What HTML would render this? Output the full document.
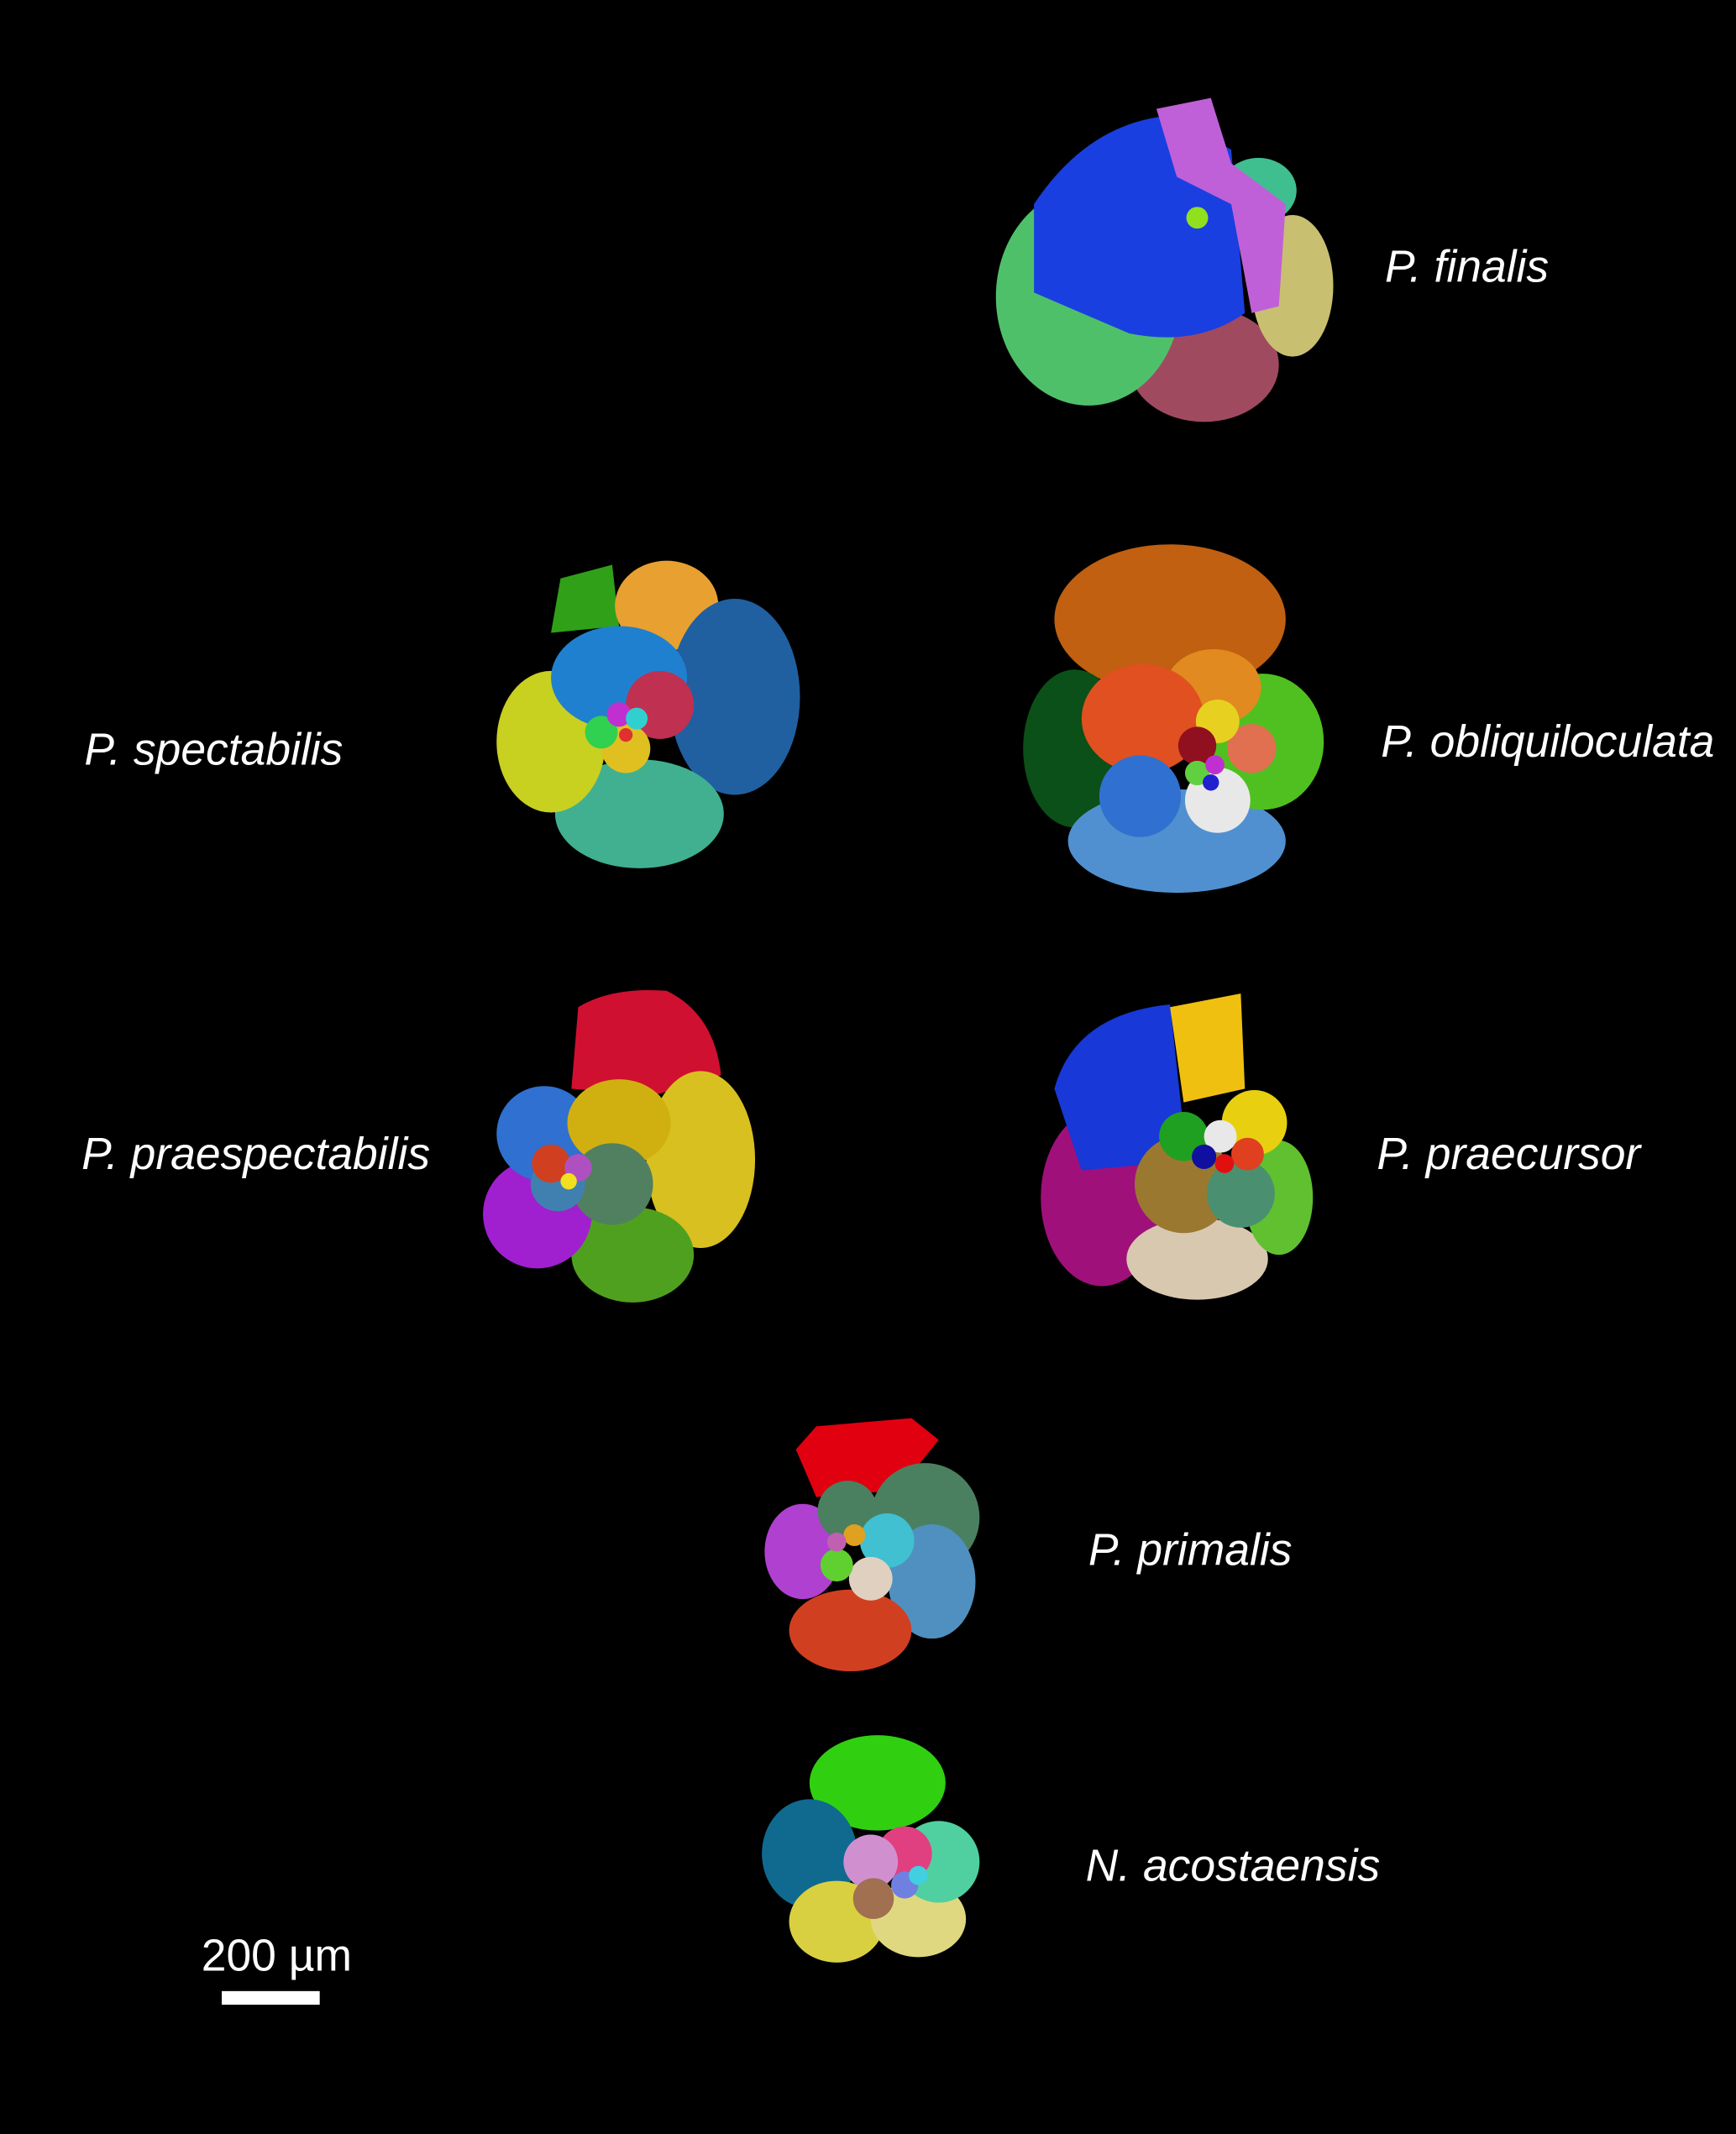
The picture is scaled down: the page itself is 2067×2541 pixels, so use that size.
<!DOCTYPE html>
<html><head><meta charset="utf-8"><style>
html,body{margin:0;padding:0;background:#000;}
svg{display:block;}
text{font-family:"Liberation Sans",sans-serif;fill:#fff;font-size:33px;}
.i{font-style:italic;}
</style></head><body>
<svg width="2067" height="2541" viewBox="0 0 1276 1568" preserveAspectRatio="none" xmlns="http://www.w3.org/2000/svg">
<rect width="1276" height="1568" fill="#000"/>
<!-- P. finalis -->
<ellipse cx="885" cy="268" rx="55" ry="42" fill="#a04a60"/>
<ellipse cx="800" cy="218" rx="68" ry="80" fill="#4fc06a"/>
<ellipse cx="925" cy="140" rx="28" ry="24" fill="#3fbf90"/>
<ellipse cx="950" cy="210" rx="30" ry="52" fill="#c8c070"/>
<path d="M760 150 Q800 90 860 85 L905 110 L915 230 Q880 255 830 245 L760 215 Z" fill="#1a3fe0"/>
<path d="M850 80 L890 72 L905 120 L945 150 L940 225 L920 230 L905 150 L865 130 Z" fill="#c060d8"/>
<circle cx="880" cy="160" r="8" fill="#90e020"/>
<!-- P. spectabilis -->
<path d="M405 465 L412 425 L450 415 L455 460 Z" fill="#30a018"/>
<ellipse cx="490" cy="445" rx="38" ry="33" fill="#e8a030"/>
<ellipse cx="540" cy="512" rx="48" ry="72" fill="#2060a0"/>
<ellipse cx="470" cy="598" rx="62" ry="40" fill="#40b090"/>
<ellipse cx="405" cy="545" rx="40" ry="52" fill="#c8d020"/>
<ellipse cx="455" cy="498" rx="50" ry="38" fill="#2080d0"/>
<circle cx="485" cy="518" r="25" fill="#c03050"/>
<circle cx="460" cy="550" r="18" fill="#e0c020"/>
<circle cx="442" cy="538" r="12" fill="#30d050"/>
<circle cx="455" cy="525" r="9" fill="#c030d0"/>
<circle cx="468" cy="528" r="8" fill="#30d0d0"/>
<circle cx="460" cy="540" r="5" fill="#e03030"/>
<!-- P. obliquiloculata -->
<ellipse cx="860" cy="455" rx="85" ry="55" fill="#c06010"/>
<ellipse cx="790" cy="550" rx="38" ry="58" fill="#0a5018"/>
<ellipse cx="865" cy="618" rx="80" ry="38" fill="#5090d0"/>
<ellipse cx="928" cy="545" rx="45" ry="50" fill="#50c020"/>
<ellipse cx="892" cy="505" rx="35" ry="28" fill="#e08a20"/>
<ellipse cx="840" cy="528" rx="45" ry="40" fill="#e05020"/>
<circle cx="838" cy="585" r="30" fill="#3070d0"/>
<circle cx="895" cy="588" r="24" fill="#e8e8e8"/>
<circle cx="920" cy="550" r="18" fill="#e07050"/>
<circle cx="895" cy="530" r="16" fill="#e8d020"/>
<circle cx="880" cy="548" r="14" fill="#901020"/>
<circle cx="880" cy="568" r="9" fill="#60d040"/>
<circle cx="893" cy="562" r="7" fill="#c030d0"/>
<circle cx="890" cy="575" r="6" fill="#2020d0"/>
<!-- P. praespectabilis -->
<path d="M425 740 Q450 725 490 728 Q525 745 530 790 L480 805 L420 800 Z" fill="#d01030"/>
<ellipse cx="515" cy="852" rx="40" ry="65" fill="#d8c020"/>
<ellipse cx="465" cy="922" rx="45" ry="35" fill="#50a020"/>
<ellipse cx="395" cy="892" rx="40" ry="40" fill="#a020d0"/>
<circle cx="400" cy="833" r="35" fill="#3070d0"/>
<ellipse cx="455" cy="825" rx="38" ry="32" fill="#d0b010"/>
<circle cx="450" cy="870" r="30" fill="#508060"/>
<circle cx="410" cy="870" r="20" fill="#4080b0"/>
<circle cx="405" cy="855" r="14" fill="#d04020"/>
<circle cx="425" cy="858" r="10" fill="#b050c0"/>
<circle cx="418" cy="868" r="6" fill="#f0e020"/>
<!-- P. praecursor -->
<ellipse cx="810" cy="880" rx="45" ry="65" fill="#a0107a"/>
<ellipse cx="880" cy="925" rx="52" ry="30" fill="#d8c8b0"/>
<ellipse cx="940" cy="880" rx="25" ry="42" fill="#60c030"/>
<path d="M775 800 Q790 745 860 738 L870 830 L850 855 L795 860 Z" fill="#1838d8"/>
<path d="M860 740 L912 730 L915 800 L870 810 Z" fill="#f0c010"/>
<circle cx="922" cy="825" r="24" fill="#e8d010"/>
<circle cx="870" cy="870" r="36" fill="#9a7830"/>
<circle cx="912" cy="877" r="25" fill="#4a9070"/>
<circle cx="870" cy="835" r="18" fill="#20a020"/>
<circle cx="897" cy="835" r="12" fill="#e8e8e8"/>
<circle cx="917" cy="848" r="12" fill="#e04020"/>
<circle cx="885" cy="850" r="9" fill="#1010a0"/>
<circle cx="900" cy="855" r="7" fill="#e01010"/>
<!-- P. primalis -->
<path d="M585 1065 L600 1048 L670 1042 L690 1058 L660 1095 L600 1100 Z" fill="#e00010"/>
<ellipse cx="680" cy="1115" rx="40" ry="40" fill="#4a8060"/>
<ellipse cx="685" cy="1162" rx="32" ry="42" fill="#5090c0"/>
<ellipse cx="625" cy="1198" rx="45" ry="30" fill="#d04020"/>
<ellipse cx="590" cy="1140" rx="28" ry="35" fill="#b040d0"/>
<circle cx="623" cy="1110" r="22" fill="#4a8060"/>
<circle cx="652" cy="1132" r="20" fill="#40c0d0"/>
<circle cx="640" cy="1160" r="16" fill="#e0d0c0"/>
<circle cx="615" cy="1150" r="12" fill="#60d030"/>
<circle cx="628" cy="1128" r="8" fill="#e0a020"/>
<circle cx="615" cy="1133" r="7" fill="#c060b0"/>
<!-- N. acostaensis -->
<ellipse cx="645" cy="1310" rx="50" ry="35" fill="#30d010"/>
<ellipse cx="595" cy="1362" rx="35" ry="40" fill="#106a90"/>
<ellipse cx="615" cy="1412" rx="35" ry="30" fill="#d8d040"/>
<ellipse cx="675" cy="1410" rx="35" ry="28" fill="#e0d880"/>
<circle cx="690" cy="1368" r="30" fill="#50d0a0"/>
<circle cx="665" cy="1362" r="20" fill="#e04080"/>
<circle cx="640" cy="1368" r="20" fill="#d090d0"/>
<circle cx="642" cy="1395" r="15" fill="#a07050"/>
<circle cx="665" cy="1385" r="10" fill="#7080e0"/>
<circle cx="675" cy="1378" r="7" fill="#40d0e0"/>
<!-- labels -->
<text class="i" x="1018" y="207">P. finalis</text>
<text class="i" x="62" y="562">P. spectabilis</text>
<text class="i" x="1015" y="556">P. obliquiloculata</text>
<text class="i" x="60" y="859">P. praespectabilis</text>
<text class="i" x="1012" y="859">P. praecursor</text>
<text class="i" x="800" y="1150">P. primalis</text>
<text class="i" x="798" y="1382">N. acostaensis</text>
<text x="148" y="1448">200 µm</text>
<rect x="163" y="1463" width="72" height="10" fill="#fff"/>
</svg>
</body></html>
